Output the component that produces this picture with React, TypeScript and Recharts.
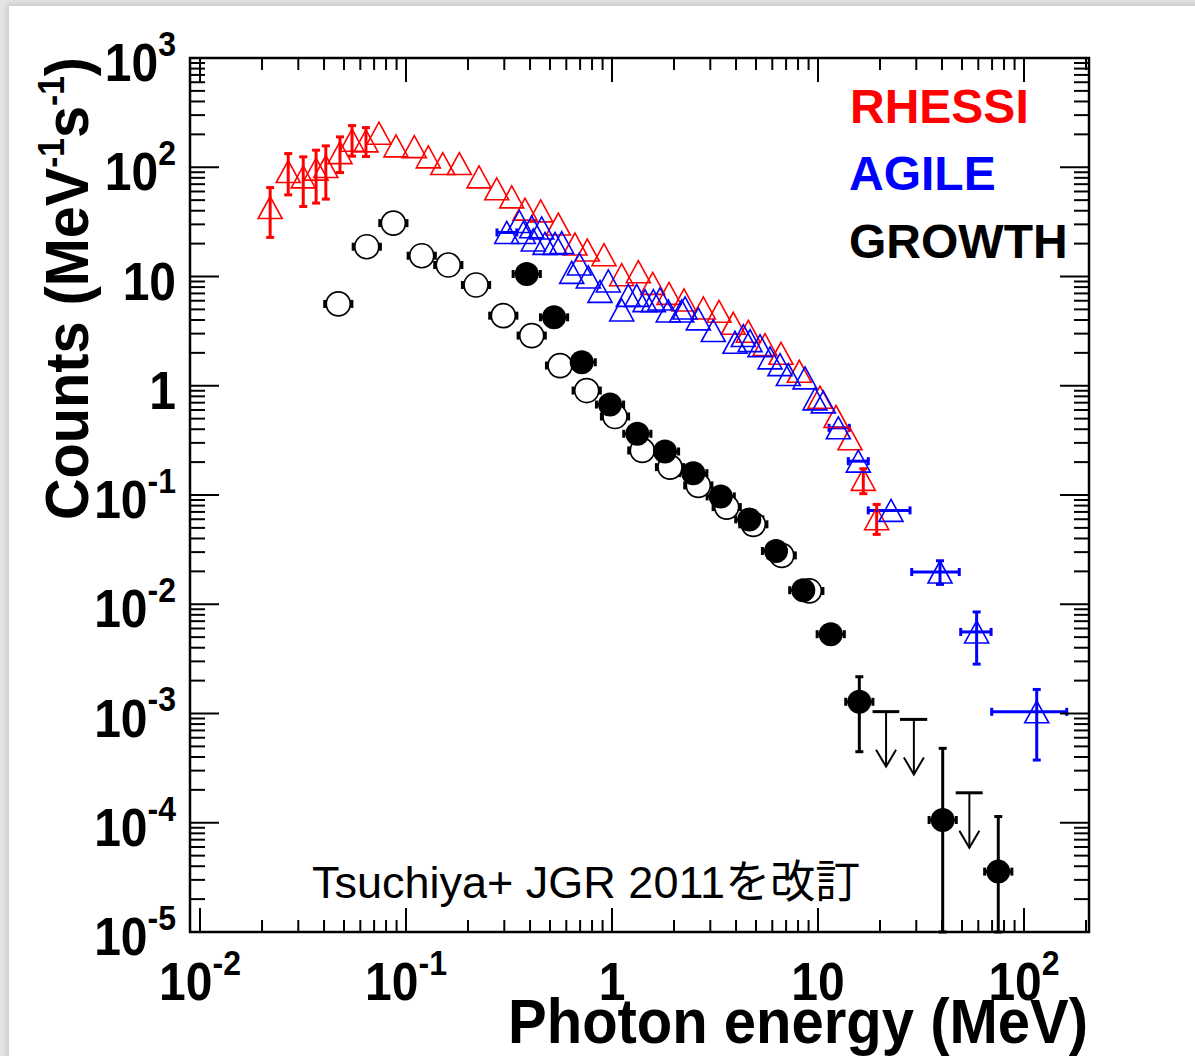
import React from 'react'
import { ScatterChart, Scatter, XAxis, YAxis, ErrorBar } from 'recharts'

// RHESSI (red open triangles)
const RHESSI_E = [0.0219, 0.0268, 0.0317, 0.0366, 0.0408, 0.0478, 0.0547, 0.0639, 0.0739, 0.0894, 0.1097, 0.1283, 0.1508, 0.1815, 0.2262, 0.2756, 0.326, 0.378, 0.4506, 0.5487, 0.6612, 0.7588, 0.9145, 1.1145, 1.342, 1.576, 1.891, 2.236, 2.775, 3.307, 3.879, 4.589, 5.529, 6.613, 8.115, 10.22, 12.23, 14.3, 16.59, 19.27]
const RHESSI_C = [42.8, 91.3, 81.7, 96.1, 101.5, 136.2, 176.9, 174.3, 204.9, 156.9, 154.6, 124.5, 108.1, 108.1, 81.7, 63.5, 53.6, 41.4, 39.9, 30.2, 19.82, 17.47, 15.82, 10.39, 11.07, 8.65, 7.01, 6.1, 5.15, 4.8, 3.73, 3.15, 2.38, 1.982, 1.357, 0.785, 0.523, 0.327, 0.1389, 0.0607]
// [index, low, high]
const RHESSI_YERR: [number, number, number][] = [
  [0, 22.8, 65.2], [1, 55.9, 133.4], [2, 43.7, 124.5], [3, 47.0, 143.3],
  [4, 51.1, 156.9], [5, 89.4, 189.7], [6, 126.3, 240.5], [7, 125.3, 230.7],
  [38, 0.1028, 0.1739], [39, 0.0436, 0.082],
]

// AGILE (blue open triangles)
const AGILE_E = [0.3083, 0.3548, 0.371, 0.4075, 0.4149, 0.4557, 0.4729, 0.5288, 0.57, 0.6372, 0.6937, 0.7674, 0.8745, 0.9594, 1.1145, 1.2, 1.318, 1.446, 1.587, 1.71, 1.876, 2.179, 2.262, 2.624, 3.102, 3.955, 4.339, 4.677, 5.23, 5.848, 6.54, 7.176, 8.648, 9.67, 10.61, 12.55, 15.69, 22.62, 39.1, 58.9, 115.3]
const AGILE_C = [25.3, 31.9, 25.3, 28.5, 21.6, 27.8, 20.1, 20.1, 20.4, 10.9, 13.0, 9.9, 7.31, 9.1, 4.94, 6.72, 6.72, 6.01, 6.01, 6.23, 4.84, 4.84, 5.15, 4.09, 3.2, 2.5, 2.88, 2.59, 2.33, 1.8, 1.56, 1.266, 1.181, 0.759, 0.712, 0.412, 0.204, 0.0723, 0.01973, 0.00558, 0.001036]
const AGILE_XERR: [number, number, number][] = [
  [0, 0.2765, 0.345], [35, 11.31, 14.19], [36, 14.03, 17.54], [37, 17.54, 27.97],
  [38, 28.5, 48.5], [39, 49.3, 69.2], [40, 69.7, 161.2],
]
const AGILE_YERR: [number, number, number][] = [
  [38, 0.0152, 0.025], [39, 0.00283, 0.0085], [40, 0.000375, 0.00166],
]

// GROWTH (open and filled circles)
const GROWTH_OPEN_E = [0.0469, 0.0645, 0.0868, 0.1192, 0.1604, 0.2187, 0.2967, 0.4075, 0.5594, 0.7536, 1.034, 1.403, 1.912, 2.624, 3.604, 4.853, 6.665, 9.074]
const GROWTH_OPEN_C = [5.61, 18.73, 30.8, 15.49, 12.74, 8.36, 4.38, 2.88, 1.53, 0.904, 0.523, 0.2557, 0.1799, 0.1224, 0.0775, 0.0539, 0.028, 0.01323]
const GROWTH_FILL_E = [0.3855, 0.5231, 0.7127, 0.9779, 1.327, 1.808, 2.481, 3.371, 4.639, 6.254, 8.483, 11.53, 15.87, 40.3, 75.0]
const GROWTH_FILL_C = [10.54, 4.23, 1.64, 0.673, 0.3634, 0.2503, 0.1585, 0.0971, 0.0598, 0.0307, 0.01343, 0.00532, 0.00128, 1.06e-4, 3.57e-5]
// the last two bars run down to the bottom of the plot
const GROWTH_FILL_YERR: [number, number, number][] = [
  [12, 4.47e-4, 2.17e-3], [13, 1e-5, 4.8e-4], [14, 1e-5, 1.14e-4],
]
const GROWTH_BIN_DEX = 0.066 // half width of the energy bins (log10)

// GROWTH upper limits
const LIMIT_E = [21.4, 29.2, 54.3]
const LIMIT_C = [1.04e-3, 8.83e-4, 1.88e-4]
const LIMIT_ELO = [18.4, 25.0, 46.6]
const LIMIT_EHI = [24.8, 33.9, 63.0]

// axes
const X_DOMAIN: [number, number] = [0.00894, 206.8]
const Y_DOMAIN: [number, number] = [1e-5, 1e3]
const X_MAJOR = [0.01, 0.1, 1, 10, 100]
const X_MAJOR_LABELS = [['10', '-2'], ['10', '-1'], ['1', ''], ['10', ''], ['10', '2']]
const Y_MAJOR = [1e-5, 1e-4, 1e-3, 1e-2, 1e-1, 1, 10, 100, 1000]
const Y_MAJOR_LABELS = [['10', '-5'], ['10', '-4'], ['10', '-3'], ['10', '-2'], ['10', '-1'], ['1', ''], ['10', ''], ['10', '2'], ['10', '3']]
const MINOR_STEPS = [2, 3, 4, 5, 6, 7, 8, 9]

const X_TICKS = X_MAJOR.flatMap((d) => [d, ...MINOR_STEPS.map((m) => m * d)]).filter((v) => v <= X_DOMAIN[1])
const Y_TICKS = Y_MAJOR.flatMap((d) => [d, ...MINOR_STEPS.map((m) => m * d)]).filter((v) => v <= Y_DOMAIN[1])

const W = 1195
const H = 1056
const PLOT = { left: 190, top: 58, right: 1089, bottom: 932 }
const FONT = "'Liberation Sans', Arial, Helvetica, sans-serif"
const RED = '#ff0000'
const BLUE = '#0000ff'

type Pt = { x: number; y: number; ex?: number[]; ey?: number[] }

const toPoints = (E: number[], C: number[]): Pt[] => E.map((x, i) => ({ x, y: C[i] }))

const addErr = (pts: Pt[], errs: [number, number, number][], key: 'ex' | 'ey') => {
  errs.forEach(([i, lo, hi]) => {
    const v = key === 'ex' ? pts[i].x : pts[i].y
    pts[i][key] = [v - lo, hi - v]
  })
  return pts
}

const addBins = (pts: Pt[]) =>
  pts.map((p) => ({ ...p, ex: [p.x - p.x / 10 ** GROWTH_BIN_DEX, p.x * 10 ** GROWTH_BIN_DEX - p.x] }))

const rhessi = addErr(toPoints(RHESSI_E, RHESSI_C), RHESSI_YERR, 'ey')
const agile = addErr(addErr(toPoints(AGILE_E, AGILE_C), AGILE_XERR, 'ex'), AGILE_YERR, 'ey')
const growthOpen = addBins(toPoints(GROWTH_OPEN_E, GROWTH_OPEN_C))
const growthFill = addErr(addBins(toPoints(GROWTH_FILL_E, GROWTH_FILL_C)), GROWTH_FILL_YERR, 'ey')
const limits = LIMIT_E.map((x, i) => ({ x, y: LIMIT_C[i], ex: [x - LIMIT_ELO[i], LIMIT_EHI[i] - x] }))

const majorIndex = (list: number[], v: number) => list.findIndex((d) => Math.abs(v / d - 1) < 1e-6)

// eslint-disable-next-line @typescript-eslint/no-explicit-any
const XTick = ({ x, payload, side }: any) => {
  const i = majorIndex(X_MAJOR, payload.value)
  const len = i >= 0 ? 24 : 12
  const y = side === 'bottom' ? PLOT.bottom : PLOT.top
  const dir = side === 'bottom' ? -1 : 1
  return (
    <g>
      <line x1={x} y1={y} x2={x} y2={y + dir * len} stroke="#000" strokeWidth={2} />
      {side === 'bottom' && i >= 0 && (
        <g transform={`translate(${x},${y}) scale(1,1.1)`}>
          <text x={0} y={62} textAnchor="middle" fontFamily={FONT} fontWeight="bold" fontSize={48} fill="#000">
            <tspan>{X_MAJOR_LABELS[i][0]}</tspan>
            {X_MAJOR_LABELS[i][1] && (
              <tspan dy={-23} fontSize={32}>
                {X_MAJOR_LABELS[i][1]}
              </tspan>
            )}
          </text>
        </g>
      )}
    </g>
  )
}

// eslint-disable-next-line @typescript-eslint/no-explicit-any
const YTick = ({ y, payload, side }: any) => {
  const i = majorIndex(Y_MAJOR, payload.value)
  const len = i >= 0 ? 29 : 15
  const x = side === 'left' ? PLOT.left : PLOT.right
  const dir = side === 'left' ? 1 : -1
  return (
    <g>
      <line x1={x} y1={y} x2={x + dir * len} y2={y} stroke="#000" strokeWidth={2} />
      {side === 'left' && i >= 0 && (
        <g transform={`translate(${x},${y}) scale(1,1.1)`}>
          <text x={-14} y={21} textAnchor="end" fontFamily={FONT} fontWeight="bold" fontSize={48} fill="#000">
            <tspan>{Y_MAJOR_LABELS[i][0]}</tspan>
            {Y_MAJOR_LABELS[i][1] && (
              <tspan dy={-23} fontSize={32}>
                {Y_MAJOR_LABELS[i][1]}
              </tspan>
            )}
          </text>
        </g>
      )}
    </g>
  )
}

// eslint-disable-next-line @typescript-eslint/no-explicit-any
const triangle = (color: string) => (p: any) => (
  <polygon
    points={`${p.cx},${p.cy - 11} ${p.cx + 12},${p.cy + 11} ${p.cx - 12},${p.cy + 11}`}
    fill="none"
    stroke={color}
    strokeWidth={1.6}
  />
)

// eslint-disable-next-line @typescript-eslint/no-explicit-any
const openCircle = (p: any) => <circle cx={p.cx} cy={p.cy} r={12} fill="#fff" stroke="#000" strokeWidth={1.7} />
// eslint-disable-next-line @typescript-eslint/no-explicit-any
const fullCircle = (p: any) => <circle cx={p.cx} cy={p.cy} r={12} fill="#000" />
// eslint-disable-next-line @typescript-eslint/no-explicit-any
const arrowDown = (p: any) => (
  <g fill="none" stroke="#000" strokeWidth={2}>
    <line x1={p.cx} y1={p.cy} x2={p.cx} y2={p.cy + 55} />
    <polyline points={`${p.cx - 10},${p.cy + 38} ${p.cx},${p.cy + 55} ${p.cx + 10},${p.cy + 38}`} />
  </g>
)

const axisLine = { stroke: '#000', strokeWidth: 2 }

export default function App() {
  return (
    <div style={{ position: 'absolute', left: 0, top: 0, width: W, height: H, overflow: 'hidden', background: '#e4e4e4' }}>
      <div
        style={{
          position: 'absolute',
          left: 9,
          top: 6,
          width: W,
          height: H,
          background: '#fff',
          boxShadow: '0 0 6px 2px rgba(0,0,0,0.12)',
        }}
      />
      <div style={{ position: 'absolute', left: 0, top: 0 }}>
        <ScatterChart
          width={W}
          height={H}
          margin={{ top: PLOT.top - 1, right: W - PLOT.right - 1, bottom: H - PLOT.bottom - 1, left: PLOT.left - 1 }}
        >
          <XAxis
            xAxisId="b"
            dataKey="x"
            type="number"
            scale="log"
            domain={X_DOMAIN}
            allowDataOverflow
            ticks={X_TICKS}
            interval={0}
            height={1}
            tickSize={0}
            tickMargin={0}
            tickLine={false}
            axisLine={false}
            tick={(p) => <XTick {...p} side="bottom" />}
          />
          <XAxis
            xAxisId="t"
            orientation="top"
            dataKey="x"
            type="number"
            scale="log"
            domain={X_DOMAIN}
            allowDataOverflow
            ticks={X_TICKS}
            interval={0}
            height={1}
            tickSize={0}
            tickMargin={0}
            tickLine={false}
            axisLine={false}
            tick={(p) => <XTick {...p} side="top" />}
          />
          <YAxis
            yAxisId="l"
            dataKey="y"
            type="number"
            scale="log"
            domain={Y_DOMAIN}
            allowDataOverflow
            ticks={Y_TICKS}
            interval={0}
            width={1}
            tickSize={0}
            tickMargin={0}
            tickLine={false}
            axisLine={false}
            tick={(p) => <YTick {...p} side="left" />}
          />
          <YAxis
            yAxisId="r"
            orientation="right"
            dataKey="y"
            type="number"
            scale="log"
            domain={Y_DOMAIN}
            allowDataOverflow
            ticks={Y_TICKS}
            interval={0}
            width={1}
            tickSize={0}
            tickMargin={0}
            tickLine={false}
            axisLine={false}
            tick={(p) => <YTick {...p} side="right" />}
          />
          <Scatter xAxisId="b" yAxisId="l" data={rhessi} shape={triangle(RED)} isAnimationActive={false}>
            <ErrorBar dataKey="ey" direction="y" width={4} stroke={RED} strokeWidth={3} isAnimationActive={false} />
          </Scatter>
          <Scatter xAxisId="b" yAxisId="l" data={agile} shape={triangle(BLUE)} isAnimationActive={false}>
            <ErrorBar dataKey="ex" direction="x" width={4} stroke={BLUE} strokeWidth={3} isAnimationActive={false} />
            <ErrorBar dataKey="ey" direction="y" width={4} stroke={BLUE} strokeWidth={3} isAnimationActive={false} />
          </Scatter>
          <Scatter xAxisId="b" yAxisId="l" data={growthOpen} shape={openCircle} isAnimationActive={false}>
            <ErrorBar dataKey="ex" direction="x" width={4} stroke="#000" strokeWidth={3} isAnimationActive={false} />
          </Scatter>
          <Scatter xAxisId="b" yAxisId="l" data={growthFill} shape={fullCircle} isAnimationActive={false}>
            <ErrorBar dataKey="ex" direction="x" width={4} stroke="#000" strokeWidth={3} isAnimationActive={false} />
            <ErrorBar dataKey="ey" direction="y" width={4} stroke="#000" strokeWidth={3} isAnimationActive={false} />
          </Scatter>
          <Scatter xAxisId="b" yAxisId="l" data={limits} shape={arrowDown} isAnimationActive={false}>
            <ErrorBar dataKey="ex" direction="x" width={0} stroke="#000" strokeWidth={3} isAnimationActive={false} />
          </Scatter>
        </ScatterChart>
      </div>
      <svg width={W} height={H} style={{ position: 'absolute', left: 0, top: 0, pointerEvents: 'none' }}>
        <rect
          x={PLOT.left}
          y={PLOT.top}
          width={PLOT.right - PLOT.left}
          height={PLOT.bottom - PLOT.top}
          fill="none"
          stroke="#000"
          strokeWidth={2.5}
        />
        <g fontFamily={FONT} fontWeight="bold" fontSize={48}>
          <text x={850} y={123} fill={RED}>RHESSI</text>
          <text x={849} y={190} fill={BLUE}>AGILE</text>
          <text x={849} y={258} fill="#000">GROWTH</text>
        </g>
        <text x={312} y={898} fontFamily={`'Liberation Sans', 'Noto Sans CJK JP', sans-serif`} fontSize={45} fill="#000">
          Tsuchiya+ JGR 2011を改訂
        </text>
        <g transform="translate(1088,1043) scale(1,1.08)">
          <text textAnchor="end" fontFamily={FONT} fontWeight="bold" fontSize={58} fill="#000">
            Photon energy (MeV)
          </text>
        </g>
        <text
          transform="translate(88,520) rotate(-90)"
          fontFamily={FONT}
          fontWeight="bold"
          fontSize={62}
          fill="#000"
          textLength={463}
          lengthAdjust="spacingAndGlyphs"
        >
          Counts (MeV
          <tspan dy={-24} fontSize={36}>-1</tspan>
          <tspan dy={24}>s</tspan>
          <tspan dy={-24} fontSize={36}>-1</tspan>
          <tspan dy={24}>)</tspan>
        </text>
      </svg>
    </div>
  )
}
